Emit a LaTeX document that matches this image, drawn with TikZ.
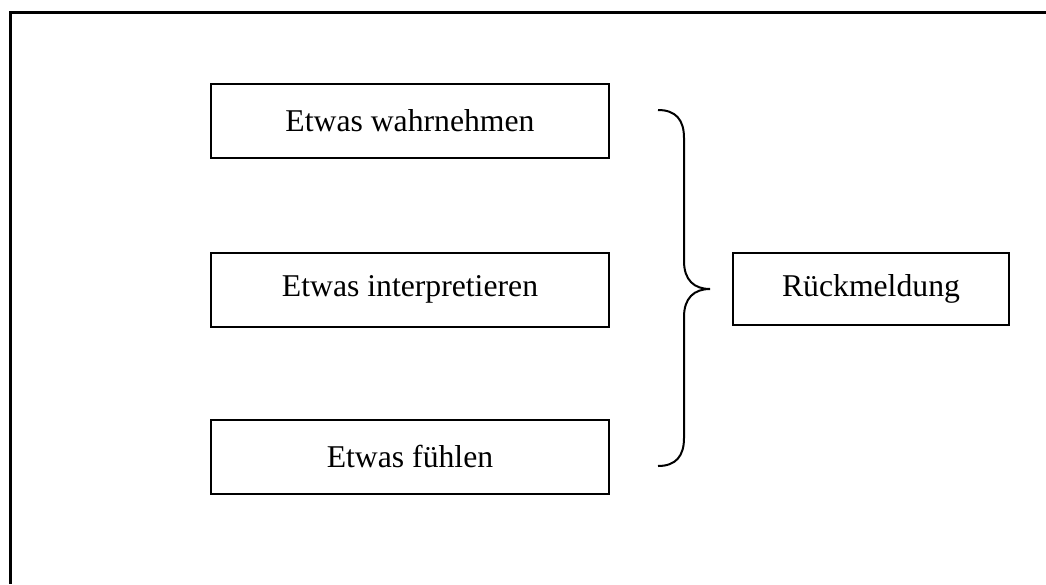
\documentclass[tikz,border=0pt]{standalone}
\usepackage{fontspec}
\setmainfont{Liberation Serif}
\begin{document}
\begin{tikzpicture}[x=1pt,y=-1pt,
  stepbox/.style={draw,line width=2pt,minimum width=398pt,minimum height=74pt,
    inner sep=0pt,font=\fontsize{31.7}{38}\selectfont},
  resultbox/.style={stepbox,minimum width=276pt,minimum height=72pt},
  frameline/.style={line width=3pt},
  bracestroke/.style={line width=2pt}]
  \useasboundingbox (0,0) rectangle (1046,584);
  % open frame: top and left edges only
  \draw[frameline] (1046,12) -- (10,12) -- (10,584);
  % the three activities
  \node[stepbox] (perceive) at (410,121) {Etwas wahrnehmen};
  \node[stepbox] (interpret) at (410,289.5) {Etwas interpretieren};
  \node[stepbox] (feel) at (410,456.5) {Etwas fühlen};
  % result
  \node[resultbox] (feedback) at (871,289) {Rückmeldung};
  % curly brace gathering the activities
  \coordinate (btop) at (658,110);
  \coordinate (btip) at (710,289);
  \coordinate (bbot) at (658,466);
  \draw[bracestroke] (btop) .. controls (676,110) and (684,120) .. (684,138)
    -- (684,261) .. controls (684,280) and (694,289) .. (btip)
    .. controls (694,289) and (684,298) .. (684,317)
    -- (684,438) .. controls (684,456) and (676,466) .. (bbot);
\end{tikzpicture}
\end{document}
